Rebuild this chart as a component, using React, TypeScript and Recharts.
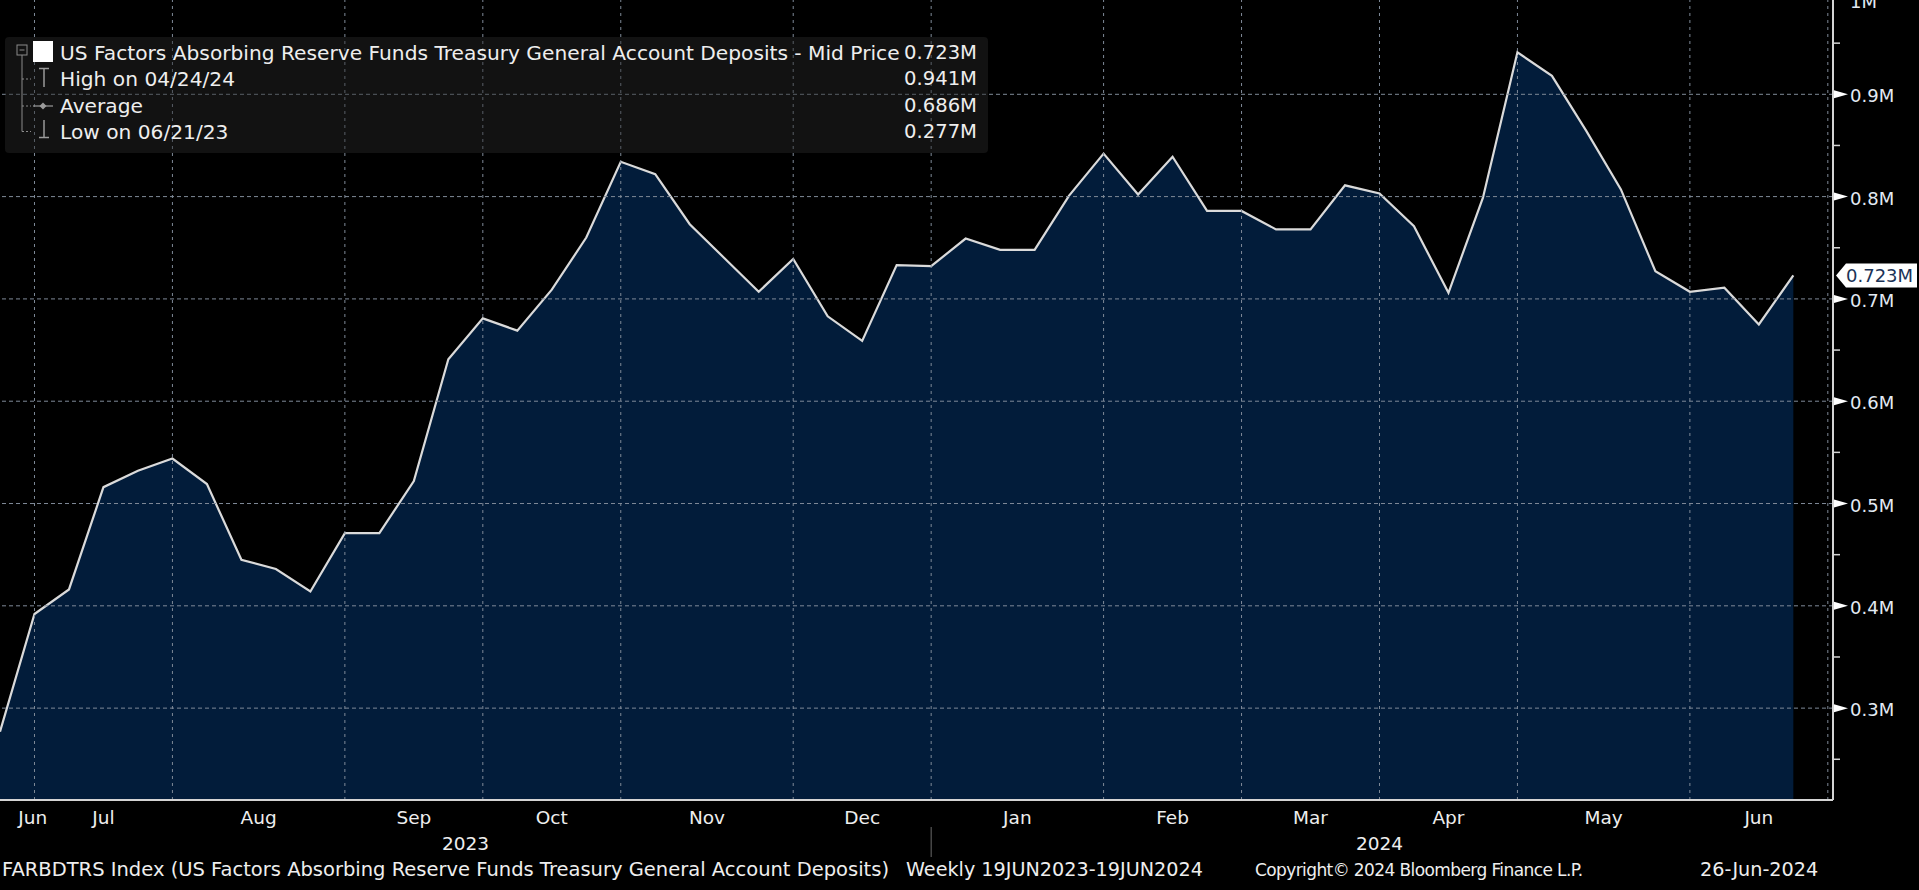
import React from 'react';
import { ComposedChart, Area, XAxis, YAxis, ReferenceLine } from 'recharts';

// weekly values (millions), 21 Jun 2023 .. 19 Jun 2024
const values = [
  0.277, 0.392, 0.416, 0.516, 0.532, 0.544, 0.519, 0.445, 0.436, 0.414,
  0.471, 0.471, 0.522, 0.641, 0.681, 0.669, 0.709, 0.760, 0.834, 0.822,
  0.773, 0.740, 0.707, 0.739, 0.683, 0.659, 0.733, 0.732, 0.759, 0.748,
  0.748, 0.801, 0.842, 0.802, 0.839, 0.786, 0.786, 0.768, 0.768, 0.811,
  0.803, 0.771, 0.706, 0.799, 0.941, 0.918, 0.864, 0.807, 0.727, 0.707,
  0.711, 0.675, 0.723,
];

// week index of the month boundaries (grid lines)
const gridWeeks = [1, 5, 10, 14, 18, 23, 27, 32, 36, 40, 44, 49, 53];
const monthCenters = [0.95, 3, 7.5, 12, 16, 20.5, 25, 29.5, 34, 38, 42, 46.5, 51];
const monthLabels = ['Jun', 'Jul', 'Aug', 'Sep', 'Oct', 'Nov', 'Dec', 'Jan', 'Feb', 'Mar', 'Apr', 'May', 'Jun'];
const yearCenters = [13.5, 40];
const yearLabels = ['2023', '2024'];
const yearBoundary = 27;

const yTicks = [0.25, 0.3, 0.35, 0.4, 0.45, 0.5, 0.55, 0.6, 0.65, 0.7, 0.75, 0.8, 0.85, 0.9, 0.95, 1.0];
const yGrid = [0.3, 0.4, 0.5, 0.6, 0.7, 0.8, 0.9];

const legendTitle = 'US Factors Absorbing Reserve Funds Treasury General Account Deposits - Mid Price';
const legendRows = [
  { label: legendTitle, value: '0.723M' },
  { label: 'High on 04/24/24', value: '0.941M' },
  { label: 'Average', value: '0.686M' },
  { label: 'Low on 06/21/23', value: '0.277M' },
];

const footer = [
  { text: 'FARBDTRS Index (US Factors Absorbing Reserve Funds Treasury General Account Deposits)', left: 2, size: 19.5, spacing: 0 },
  { text: 'Weekly 19JUN2023-19JUN2024', left: 906, size: 19.2, spacing: 0 },
  { text: 'Copyright\u00a9 2024 Bloomberg Finance L.P.', left: 1255, size: 17, spacing: -0.6 },
  { text: '26-Jun-2024', left: 1700, size: 19.2, spacing: 0 },
];

const FONT = "'DejaVu Sans', sans-serif";
const TEXT = '#eeeeee';
const AXIS = '#d4d4d4';
const GRID = '#7f8a98';

const data = values.map((v, i) => ({ i, v }));
const last = values[values.length - 1];

const MonthTick = (props: any) => {
  const { x, y, index } = props;
  return (
    <text x={x} y={y + 16} textAnchor="middle" fill={TEXT} fontSize={18.5} fontFamily={FONT}>
      {monthLabels[index]}
    </text>
  );
};

const YearTick = (props: any) => {
  const { x, y, payload } = props;
  if (payload.value === yearBoundary) {
    return <line x1={x} x2={x} y1={y - 11} y2={y + 19} stroke="#6a6a6a" strokeWidth={1} />;
  }
  const k = yearCenters.indexOf(payload.value);
  return (
    <text x={x} y={y + 12} textAnchor="middle" fill={TEXT} fontSize={18.5} fontFamily={FONT}>
      {yearLabels[k]}
    </text>
  );
};

const PriceTick = (props: any) => {
  const { x, y, payload } = props;
  const v = payload.value;
  const major = Math.round(v * 100) % 10 === 0;
  if (!major) {
    return <line x1={x} x2={x + 7} y1={y} y2={y} stroke={AXIS} strokeWidth={1.5} />;
  }
  // the top label sits half outside the frame, as in the terminal
  const label = v >= 1 ? '1M' : `${v.toFixed(1)}M`;
  const ty = v >= 1 ? 8 : y + 8;
  return (
    <g>
      <polygon points={`${x + 1},${y - 4} ${x + 1},${y + 4} ${x + 15},${y}`} fill="#ffffff" />
      <text x={x + 17} y={ty} fill="#e2eaf3" fontSize={18} fontFamily={FONT}>
        {label}
      </text>
    </g>
  );
};

const LastTag = (props: any) => {
  const vb = props.viewBox || {};
  const x = (vb.x || 0) + (vb.width || 0) + 3;
  const y = vb.y || 0;
  return (
    <g>
      <polygon
        points={`${x},${y} ${x + 10},${y - 12} ${x + 81},${y - 12} ${x + 81},${y + 12} ${x + 10},${y + 12}`}
        fill="#ffffff"
      />
      <text x={x + 10} y={y + 7} fill="#1b3357" fontSize={18} fontFamily={FONT}>
        {`${last.toFixed(3)}M`}
      </text>
    </g>
  );
};

function Legend() {
  const centers = [52.7, 79, 106, 131.7];
  return (
    <>
      <div
        style={{
          position: 'absolute',
          left: 5,
          top: 37,
          width: 983,
          height: 116,
          background: 'rgba(40,40,40,0.45)',
          borderRadius: 4,
        }}
      />
      <svg style={{ position: 'absolute', left: 0, top: 0 }} width={60} height={160}>
        <rect x={17} y={45} width={10} height={10} fill="none" stroke="#8a8a8a" />
        <line x1={19.5} x2={24.5} y1={50} y2={50} stroke="#8a8a8a" />
        <line x1={22} x2={22} y1={55} y2={131.5} stroke="#8a8a8a" />
        {[79, 106, 131.5].map((cy) => (
          <line key={cy} x1={22} x2={31} y1={cy} y2={cy} stroke="#8a8a8a" strokeDasharray="2 2" />
        ))}
        <rect x={33} y={41} width={20} height={21} fill="#ffffff" />
        <line x1={39} x2={49} y1={68.5} y2={68.5} stroke="#9a9a9a" strokeWidth={1.5} />
        <line x1={44} x2={44} y1={68} y2={87} stroke="#9a9a9a" strokeWidth={1.5} />
        <line x1={33} x2={53} y1={106} y2={106} stroke="#9a9a9a" strokeWidth={1.2} />
        <polygon points="43,102.5 46.5,106 43,109.5 39.5,106" fill="#9a9a9a" />
        <line x1={44} x2={44} y1={120} y2={138} stroke="#9a9a9a" strokeWidth={1.5} />
        <line x1={39} x2={49} y1={137.5} y2={137.5} stroke="#9a9a9a" strokeWidth={1.5} />
      </svg>
      {legendRows.map((r, k) => (
        <React.Fragment key={k}>
          <div
            style={{
              position: 'absolute',
              left: 60,
              top: centers[k] - 13,
              height: 26,
              lineHeight: '26px',
              fontSize: 20.2,
              fontFamily: FONT,
              color: TEXT,
              whiteSpace: 'nowrap',
            }}
          >
            {r.label}
          </div>
          <div
            style={{
              position: 'absolute',
              right: 1919 - 977,
              top: centers[k] - 13,
              height: 26,
              lineHeight: '26px',
              fontSize: 19.6,
              fontFamily: FONT,
              color: TEXT,
              whiteSpace: 'nowrap',
            }}
          >
            {r.value}
          </div>
        </React.Fragment>
      ))}
    </>
  );
}

export default function App() {
  return (
    <div
      style={{
        position: 'fixed',
        left: 0,
        top: 0,
        width: 1919,
        height: 890,
        background: '#000000',
        overflow: 'hidden',
      }}
    >
      <ComposedChart width={1919} height={890} data={data} margin={{ top: -8, right: 0, bottom: 26, left: 0 }}>
        <XAxis
          xAxisId="g"
          dataKey="i"
          type="number"
          domain={[0, 53.15]}
          allowDataOverflow
          ticks={gridWeeks}
          interval={0}
          tick={false}
          tickLine={{ stroke: '#b0b0b0' }}
          tickSize={6}
          axisLine={{ stroke: AXIS, strokeWidth: 2 }}
          height={8}
        />
        <XAxis
          xAxisId="m"
          dataKey="i"
          type="number"
          domain={[0, 53.15]}
          allowDataOverflow
          ticks={monthCenters}
          interval={0}
          tick={MonthTick}
          tickLine={false}
          axisLine={false}
          tickSize={0}
          tickMargin={0}
          height={30}
        />
        <XAxis
          xAxisId="y"
          dataKey="i"
          type="number"
          domain={[0, 53.15]}
          allowDataOverflow
          ticks={[yearCenters[0], yearBoundary, yearCenters[1]]}
          interval={0}
          tick={YearTick}
          tickLine={false}
          axisLine={false}
          tickSize={0}
          tickMargin={0}
          height={26}
        />
        <YAxis
          yAxisId="p"
          orientation="right"
          type="number"
          domain={[0.2102, 1.0]}
          allowDataOverflow
          ticks={yTicks}
          interval={0}
          tick={PriceTick}
          tickLine={false}
          tickSize={0}
          tickMargin={0}
          axisLine={{ stroke: AXIS, strokeWidth: 2 }}
          width={86}
        />
        <Area
          xAxisId="g"
          yAxisId="p"
          type="linear"
          dataKey="v"
          stroke="none"
          fill="#021c3a"
          fillOpacity={1}
          baseValue="dataMin"
          isAnimationActive={false}
          dot={false}
          activeDot={false}
        />
        {yGrid.map((g) => (
          <ReferenceLine
            key={`h${g}`}
            xAxisId="g"
            yAxisId="p"
            y={g}
            stroke={GRID}
            strokeDasharray="4 3"
            strokeWidth={1}
          />
        ))}
        {gridWeeks.map((w) => (
          <ReferenceLine
            key={`v${w}`}
            xAxisId="g"
            yAxisId="p"
            x={w}
            stroke={GRID}
            strokeDasharray="3 4"
            strokeWidth={1}
          />
        ))}
        <Area
          xAxisId="g"
          yAxisId="p"
          type="linear"
          dataKey="v"
          stroke="#dadada"
          strokeWidth={2.2}
          fill="none"
          baseValue="dataMin"
          isAnimationActive={false}
          dot={false}
          activeDot={false}
        />
        <ReferenceLine xAxisId="g" yAxisId="p" y={last} stroke="none" label={LastTag} />
      </ComposedChart>
      <Legend />
      {footer.map((f) => (
        <div
          key={f.left}
          style={{
            position: 'absolute',
            left: f.left,
            top: 858,
            height: 24,
            lineHeight: '24px',
            fontSize: f.size,
            letterSpacing: f.spacing,
            fontFamily: FONT,
            color: TEXT,
            whiteSpace: 'nowrap',
          }}
        >
          {f.text}
        </div>
      ))}
    </div>
  );
}
